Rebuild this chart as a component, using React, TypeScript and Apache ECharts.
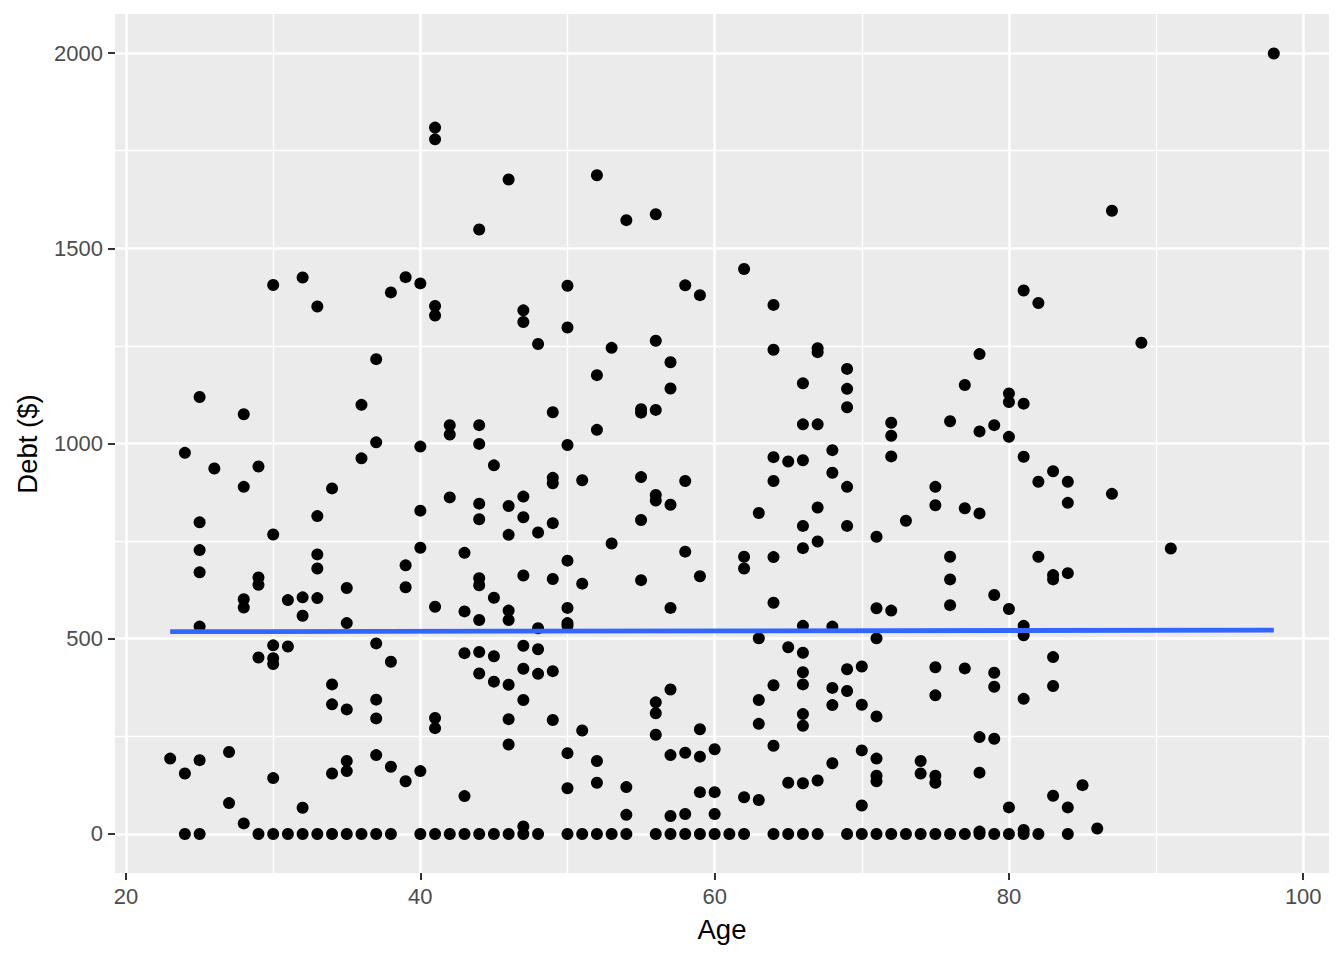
import React, { useEffect, useRef } from "react";
import * as echarts from "echarts";

type AgeGroup = [number, number[]][];

// Debt values read per age (age, [debts...])
const points20s: AgeGroup = [
  [23, [193]],
  [24, [976, 155, 0]],
  [25, [1119, 798, 727, 670, 531, 189, 0]],
  [26, [936]],
  [27, [210, 79]],
  [28, [1075, 889, 601, 580, 27]],
  [29, [941, 657, 638, 452, 0]],
];
const points30s: AgeGroup = [
  [30, [1406, 767, 483, 450, 435, 143, 0]],
  [31, [599, 480, 0]],
  [32, [1425, 606, 559, 67, 0]],
  [33, [1351, 814, 716, 680, 604, 0]],
  [34, [885, 383, 332, 155, 0]],
  [35, [630, 540, 319, 187, 161, 0]],
  [36, [1099, 962, 0]],
  [37, [1216, 1003, 488, 344, 296, 202, 0]],
  [38, [1387, 441, 172, 0]],
  [39, [1426, 688, 632, 135]],
];
const points40s: AgeGroup = [
  [40, [1410, 992, 828, 733, 161, 0]],
  [41, [1809, 1779, 1352, 1328, 582, 297, 271, 0]],
  [42, [1047, 1023, 862, 0]],
  [43, [720, 570, 463, 97, 0]],
  [44, [1548, 1047, 999, 846, 806, 655, 637, 548, 466, 411, 0]],
  [45, [944, 605, 455, 390, 0]],
  [46, [1676, 840, 766, 572, 548, 382, 294, 229, 0]],
  [47, [1341, 1311, 864, 811, 662, 482, 423, 343, 19, 0]],
  [48, [1255, 772, 527, 473, 410, 0]],
  [49, [1080, 912, 898, 796, 653, 417, 292]],
];
const points50s: AgeGroup = [
  [50, [1404, 1297, 996, 700, 579, 540, 533, 207, 117, 0]],
  [51, [906, 641, 265, 0]],
  [52, [1687, 1175, 1035, 187, 131, 0]],
  [53, [1245, 744, 0]],
  [54, [1572, 120, 49, 0]],
  [55, [1088, 1079, 914, 804, 650]],
  [56, [1587, 1263, 1086, 868, 854, 337, 309, 254, 0]],
  [57, [1208, 1141, 843, 579, 370, 202, 46, 0]],
  [58, [1405, 904, 723, 208, 51, 0]],
  [59, [1380, 660, 268, 198, 107, 0]],
];
const points60s: AgeGroup = [
  [60, [217, 107, 51, 0]],
  [61, [0]],
  [62, [1447, 710, 680, 94, 0]],
  [63, [822, 501, 343, 282, 87]],
  [64, [1355, 1240, 965, 904, 709, 592, 381, 226, 0]],
  [65, [954, 478, 131, 0]],
  [66, [1154, 1049, 957, 789, 732, 533, 464, 414, 383, 307, 277, 130, 0]],
  [67, [1244, 1234, 1049, 836, 749, 137, 0]],
  [68, [983, 925, 531, 374, 330, 181]],
  [69, [1191, 1140, 1093, 889, 789, 422, 366, 0]],
];
const points70s: AgeGroup = [
  [70, [429, 331, 214, 73, 0]],
  [71, [761, 578, 501, 301, 193, 149, 135, 0]],
  [72, [1053, 1020, 967, 572, 0]],
  [73, [802, 0]],
  [74, [187, 155, 0]],
  [75, [889, 842, 427, 355, 149, 131, 0]],
  [76, [1057, 710, 652, 586, 0]],
  [77, [1150, 834, 424, 0]],
  [78, [1229, 1031, 821, 248, 157, 6, 0]],
  [79, [1047, 612, 413, 377, 244, 0]],
];
const points80plus: AgeGroup = [
  [80, [1128, 1106, 1017, 576, 68, 0]],
  [81, [1392, 1102, 966, 533, 509, 346, 10, 0]],
  [82, [1360, 902, 710, 0]],
  [83, [929, 663, 652, 453, 379, 98]],
  [84, [902, 848, 668, 68, 0]],
  [85, [125]],
  [86, [14]],
  [87, [1596, 871]],
  [89, [1258]],
  [91, [731]],
  [98, [1999]],
];

// Linear fit line
const fitAges = [23, 98];
const fitDebts = [518, 522];

// Axes
const xMajorTicks = [20, 40, 60, 80, 100];
const xMinorTicks = [30, 50, 70, 90];
const yMajorTicks = [0, 500, 1000, 1500, 2000];
const yMinorTicks = [250, 750, 1250, 1750];
const xRange = [19.25, 101.75];
const yRange = [-100, 2100];

const FONT = "'Liberation Sans', Arial, Helvetica, sans-serif";

export default function App() {
  const ref = useRef<HTMLDivElement>(null);

  useEffect(() => {
    if (!ref.current) return;
    const chart = echarts.init(ref.current, undefined, { renderer: "svg" });

    const allGroups = [
      ...points20s,
      ...points30s,
      ...points40s,
      ...points50s,
      ...points60s,
      ...points70s,
      ...points80plus,
    ];
    const scatterData: number[][] = [];
    allGroups.forEach(([age, debts]) => {
      debts.forEach((d) => scatterData.push([age, d]));
    });
    const fitData = fitAges.map((a, i) => [a, fitDebts[i]]);

    const gridLeft = 115;
    const gridTop = 14;
    const gridWidth = 1214;
    const gridHeight = 859;

    const plainLabel = (v: number) => String(v);

    chart.setOption({
      animation: false,
      backgroundColor: "#FFFFFF",
      grid: {
        left: gridLeft,
        top: gridTop,
        width: gridWidth,
        height: gridHeight,
        show: true,
        backgroundColor: "#EBEBEB",
        borderWidth: 0,
        containLabel: false,
      },
      xAxis: [
        {
          type: "value",
          min: xRange[0],
          max: xRange[1],
          position: "bottom",
          axisLine: { show: false, onZero: false },
          axisTick: {
            show: true,
            length: 7,
            customValues: xMajorTicks,
            lineStyle: { color: "#333333", width: 2 },
          },
          axisLabel: {
            show: true,
            customValues: xMajorTicks,
            formatter: plainLabel,
            margin: 12,
            fontSize: 22,
            color: "#4D4D4D",
            fontFamily: FONT,
          },
          splitLine: { show: true, lineStyle: { color: "#FFFFFF", width: 2.6 } },
          z: 1,
        },
        {
          type: "value",
          min: xRange[0],
          max: xRange[1],
          position: "bottom",
          axisLine: { show: false, onZero: false },
          axisLabel: { show: false },
          axisTick: { show: false, customValues: xMinorTicks },
          splitLine: { show: true, lineStyle: { color: "#FFFFFF", width: 1.3 } },
          z: 0,
        },
      ],
      yAxis: [
        {
          type: "value",
          min: yRange[0],
          max: yRange[1],
          position: "left",
          axisLine: { show: false, onZero: false },
          axisTick: {
            show: true,
            length: 7,
            customValues: yMajorTicks,
            lineStyle: { color: "#333333", width: 2 },
          },
          axisLabel: {
            show: true,
            customValues: yMajorTicks,
            formatter: plainLabel,
            margin: 12,
            fontSize: 22,
            color: "#4D4D4D",
            fontFamily: FONT,
          },
          splitLine: { show: true, lineStyle: { color: "#FFFFFF", width: 2.6 } },
          z: 1,
        },
        {
          type: "value",
          min: yRange[0],
          max: yRange[1],
          position: "left",
          axisLine: { show: false, onZero: false },
          axisLabel: { show: false },
          axisTick: { show: false, customValues: yMinorTicks },
          splitLine: { show: true, lineStyle: { color: "#FFFFFF", width: 1.3 } },
          z: 0,
        },
      ],
      series: [
        {
          type: "scatter",
          xAxisIndex: 0,
          yAxisIndex: 0,
          data: scatterData,
          symbol: "circle",
          symbolSize: 12,
          itemStyle: { color: "#000000", opacity: 1 },
          silent: true,
          z: 3,
        },
        {
          type: "line",
          xAxisIndex: 0,
          yAxisIndex: 0,
          data: fitData,
          showSymbol: false,
          symbol: "none",
          lineStyle: { color: "#3366FF", width: 4.8 },
          silent: true,
          z: 4,
        },
      ],
      graphic: [
        {
          type: "text",
          x: gridLeft + gridWidth / 2,
          y: 929,
          style: {
            text: "Age",
            fontSize: 27.5,
            fontFamily: FONT,
            fill: "#000000",
            align: "center",
            verticalAlign: "middle",
          },
        },
        {
          type: "text",
          x: 27,
          y: 444,
          rotation: Math.PI / 2,
          style: {
            text: "Debt ($)",
            fontSize: 27.5,
            fontFamily: FONT,
            fill: "#000000",
            align: "center",
            verticalAlign: "middle",
          },
        },
      ],
    });

    return () => {
      chart.dispose();
    };
  }, []);

  return (
    <div
      ref={ref}
      style={{ position: "fixed", left: 0, top: 0, width: 1344, height: 960 }}
    />
  );
}
